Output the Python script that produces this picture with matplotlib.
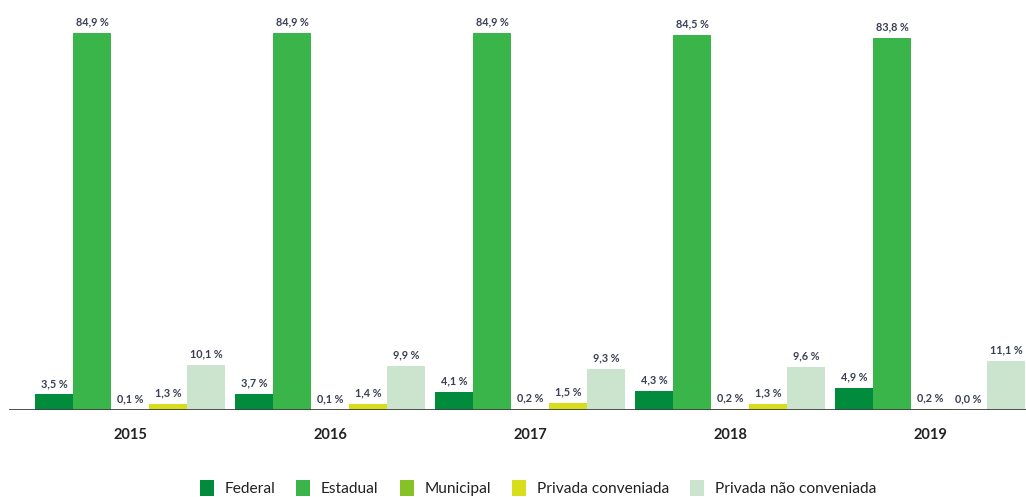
import matplotlib
matplotlib.use("Agg")
import matplotlib.pyplot as plt
import numpy as np

years = ["2015", "2016", "2017", "2018", "2019"]
series_names = ["Federal", "Estadual", "Municipal", "Privada conveniada", "Privada não conveniada"]
federal = [3.5, 3.7, 4.1, 4.3, 4.9]
estadual = [84.9, 84.9, 84.9, 84.5, 83.8]
municipal = [0.1, 0.1, 0.2, 0.2, 0.2]
privada_conv = [1.3, 1.4, 1.5, 1.3, 0.0]
privada_nao_conv = [10.1, 9.9, 9.3, 9.6, 11.1]
colors = ["#008C3C", "#3AB54A", "#86C226", "#D8DE1C", "#CBE4CD"]

plt.rcParams['font.family'] = ['Lato', 'DejaVu Sans']

fig = plt.figure(figsize=(10.26, 4.97), dpi=100)
ax = fig.add_axes([0.0, (497 - 410) / 497, 1.0, 410 / 497])

data = [federal, estadual, municipal, privada_conv, privada_nao_conv]
x = np.arange(len(years))
w = 0.19
for k, (vals, name, c) in enumerate(zip(data, series_names, colors)):
    pos = x + (k - 2) * w
    ax.bar(pos, vals, width=w, color=c, label=name, edgecolor='none')
    for xi, v in zip(pos, vals):
        ax.annotate(f"{v:.1f} %".replace(".", ","), (xi, v), xytext=(0, 4),
                    textcoords="offset points", ha="center", va="bottom",
                    fontsize=7.8, color="#3a3f55", fontweight="bold")

ax.set_xlim(-0.65, 4.48)
ax.set_ylim(0, 92.3)
ax.axhline(0, xmin=10 / 1026, xmax=1.0, color="#404040", lw=2.0, zorder=5)
for s in ax.spines.values():
    s.set_visible(False)
ax.set_yticks([])
ax.set_xticks(x)
ax.set_xticklabels(years, fontsize=10.5, color="#222222", fontweight="bold")
ax.tick_params(axis='x', length=0, pad=13)

handles, labels = ax.get_legend_handles_labels()
fig.legend(handles, labels, loc="center", bbox_to_anchor=(538 / 1026, 1 - 488 / 497),
           ncol=5, frameon=False, fontsize=11.2, handlelength=0.9, handleheight=1.2,
           handletextpad=0.7, columnspacing=1.35, labelcolor="#222222")

fig.savefig("out.png", dpi=100)
